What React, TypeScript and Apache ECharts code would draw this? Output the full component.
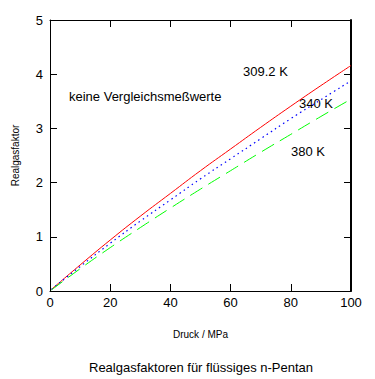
import React, { useEffect, useRef } from "react";
import * as echarts from "echarts";

const pressure = [0.5, 10, 20, 30, 40, 50, 60, 70, 80, 90, 100];
const z309 = [0.03, 0.48, 0.94, 1.38, 1.8, 2.22, 2.62, 3.02, 3.41, 3.79, 4.16];
const z340 = [0.03, 0.45, 0.88, 1.29, 1.68, 2.07, 2.44, 2.81, 3.18, 3.53, 3.88];
const z380 = [0.02, 0.41, 0.8, 1.17, 1.53, 1.88, 2.22, 2.56, 2.89, 3.22, 3.54];
const seriesNames = ["309.2 K", "340 K", "380 K"];
const xTicks = { min: 0, max: 100, interval: 20 };
const yTicks = { min: 0, max: 5, interval: 1 };

const FONT = "'Liberation Sans', Arial, sans-serif";
const NARROW = "'Liberation Sans Narrow', 'Liberation Sans', Arial, sans-serif";

export default function App() {
  const ref = useRef<HTMLDivElement>(null);
  useEffect(() => {
    if (!ref.current) return;
    const chart = echarts.init(ref.current, null, { renderer: "svg" });
    const pair = (ys: number[]) => pressure.map((p, i) => [p, ys[i]]);
    const axisCommon = {
      type: "value" as const,
      axisLine: { show: true, onZero: false, lineStyle: { color: "#000", width: 1 } },
      axisTick: { show: true, inside: true, length: 7, lineStyle: { color: "#000", width: 1 } },
      splitLine: { show: false },
    };
    chart.setOption({
      animation: false,
      backgroundColor: "#fff",
      grid: { left: 50, right: 24, top: 20, bottom: 88, containLabel: false },
      xAxis: [
        {
          ...axisCommon,
          position: "bottom",
          ...xTicks,
          axisLabel: { color: "#000", fontSize: 13, fontFamily: NARROW, margin: 5 },
          name: "Druck / MPa",
          nameLocation: "middle",
          nameGap: 38,
          nameTextStyle: { color: "#000", fontSize: 10, fontFamily: FONT },
        },
        {
          ...axisCommon,
          position: "top",
          ...xTicks,
          axisLabel: { show: false },
        },
      ],
      yAxis: [
        {
          ...axisCommon,
          position: "left",
          ...yTicks,
          axisLabel: { color: "#000", fontSize: 13, fontFamily: NARROW, margin: 7 },
          name: "Realgasfaktor",
          nameLocation: "middle",
          nameRotate: 90,
          nameGap: 30,
          nameTextStyle: { color: "#000", fontSize: 10, fontFamily: FONT },
        },
        {
          ...axisCommon,
          position: "right",
          ...yTicks,
          axisLine: { show: true, onZero: false, lineStyle: { color: "#000", width: 2 } },
          axisLabel: { show: false },
        },
      ],
      title: {
        text: "Realgasfaktoren für flüssiges n-Pentan",
        left: 196,
        top: 356,
        textAlign: "center",
        textStyle: { color: "#000", fontSize: 13, fontWeight: "normal", fontFamily: FONT },
      },
      series: [
        {
          name: seriesNames[0],
          type: "line",
          data: pair(z309),
          showSymbol: false,
          smooth: true,
          lineStyle: { color: "#ff0000", width: 1, type: "solid" },
        },
        {
          name: seriesNames[1],
          type: "line",
          data: pair(z340),
          showSymbol: false,
          smooth: true,
          lineStyle: { color: "#0000ff", width: 1.2, type: [1.5, 3.5] },
        },
        {
          name: seriesNames[2],
          type: "line",
          data: pair(z380),
          showSymbol: false,
          smooth: true,
          lineStyle: { color: "#00ff00", width: 1, type: [14, 7] },
        },
      ],
      graphic: [
        {
          type: "text",
          left: 69,
          top: 90,
          style: { text: "keine Vergleichsmeßwerte", fill: "#000", fontSize: 13, fontFamily: FONT },
        },
        {
          type: "text",
          left: 243,
          top: 65,
          style: { text: seriesNames[0], fill: "#000", fontSize: 13, fontFamily: FONT },
        },
        {
          type: "text",
          left: 299,
          top: 97,
          style: { text: seriesNames[1], fill: "#000", fontSize: 13, fontFamily: FONT },
        },
        {
          type: "text",
          left: 291,
          top: 145,
          style: { text: seriesNames[2], fill: "#000", fontSize: 13, fontFamily: FONT },
        },
      ],
    });
    return () => chart.dispose();
  }, []);
  return (
    <div
      ref={ref}
      style={{ position: "fixed", left: 0, top: 0, width: 375, height: 379, background: "#fff" }}
    />
  );
}
